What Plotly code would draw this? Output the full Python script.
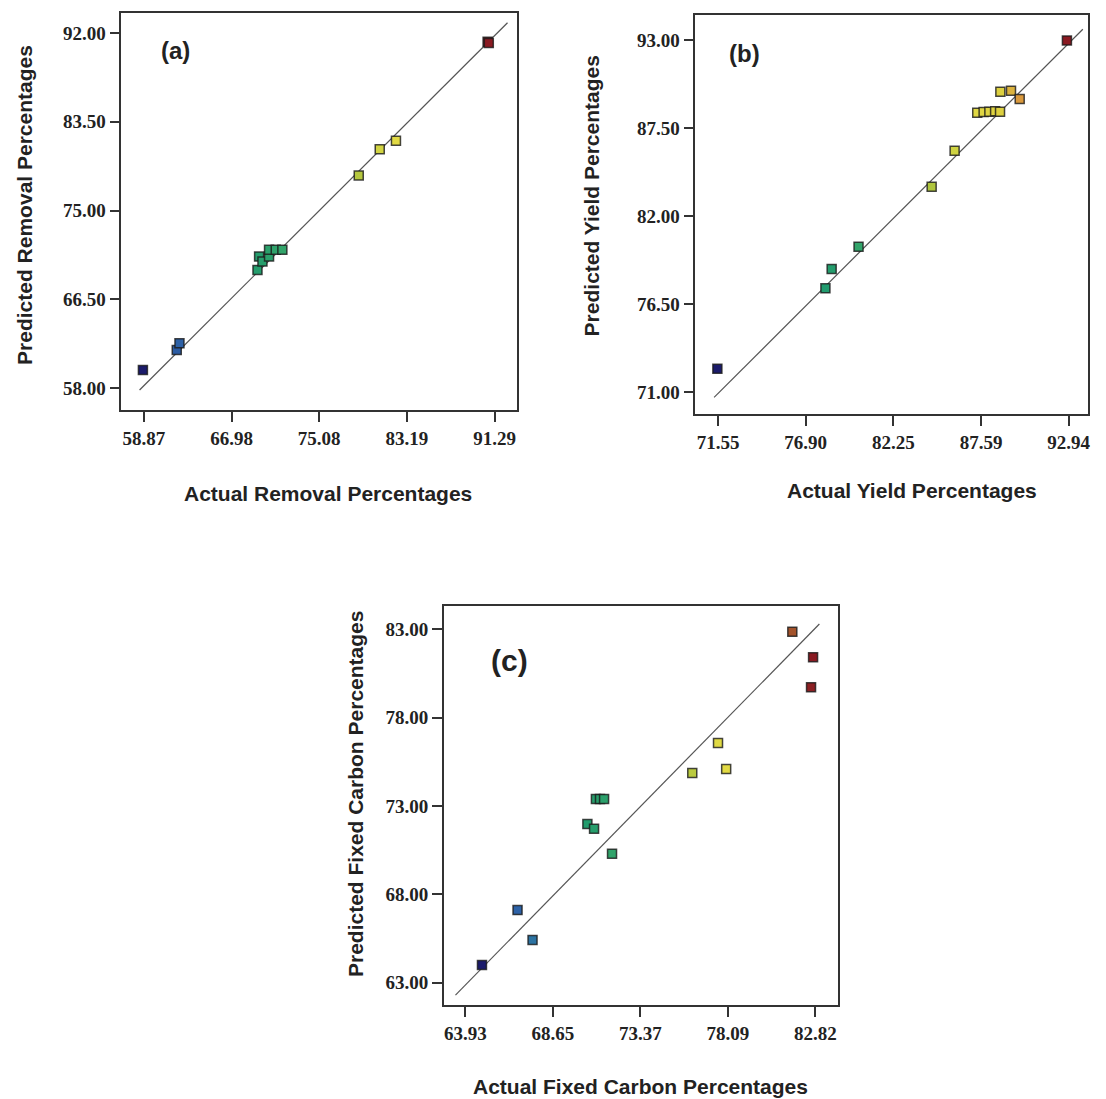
import plotly.graph_objects as go

# ---------------- data ----------------
a_actual = [58.78, 61.91, 62.16, 69.37, 69.52, 69.83, 70.44, 70.44, 71.06, 71.67, 78.73, 80.67, 82.17, 90.64, 90.75]
a_pred   = [59.73, 61.64, 62.29, 69.31, 70.59, 70.11, 70.59, 71.23, 71.23, 71.23, 78.36, 80.88, 81.68, 91.17, 91.05]
a_line_x = [58.47, 92.48]
a_line_y = [57.81, 92.99]
a_xticks = [58.87, 66.98, 75.08, 83.19, 91.29]
a_yticks = [58.00, 66.50, 75.00, 83.50, 92.00]

b_actual = [71.51, 78.10, 78.48, 80.12, 84.58, 85.98, 87.36, 87.75, 88.10, 88.45, 88.75, 88.77, 89.42, 89.95, 92.83]
b_pred   = [72.46, 77.48, 78.69, 80.08, 83.83, 86.08, 88.46, 88.50, 88.52, 88.55, 88.52, 89.77, 89.83, 89.31, 92.96]
b_line_x = [71.31, 93.80]
b_line_y = [70.67, 93.67]
b_xticks = [71.55, 76.90, 82.25, 87.59, 92.94]
b_yticks = [71.00, 76.50, 82.00, 87.50, 93.00]

c_actual = [64.82, 66.74, 67.55, 70.51, 70.87, 70.97, 71.19, 71.41, 71.84, 76.17, 77.56, 78.00, 81.57, 82.69, 82.58]
c_pred   = [64.00, 67.11, 65.42, 71.98, 71.72, 73.40, 73.40, 73.40, 70.30, 74.87, 76.57, 75.09, 82.86, 81.42, 79.72]
c_line_x = [63.39, 83.03]
c_line_y = [62.30, 83.30]
c_xticks = [63.93, 68.65, 73.37, 78.09, 82.82]
c_yticks = [63.00, 68.00, 73.00, 78.00, 83.00]

panel_labels = ["(a)", "(b)", "(c)"]
x_titles = ["Actual Removal Percentages", "Actual Yield Percentages", "Actual Fixed Carbon Percentages"]
y_titles = ["Predicted Removal Percentages", "Predicted Yield Percentages", "Predicted Fixed Carbon Percentages"]

# ---------------- styling / layout ----------------
W, H = 1106, 1099
def px(x):
    return x / W
def py(y):
    return 1 - y / H

colorscale = [
    [0.00, '#1b1b6b'], [0.12, '#2f6aae'], [0.30, '#1f9a6e'], [0.45, '#3aa868'],
    [0.60, '#a9c23c'], [0.72, '#e3dc45'], [0.81, '#ddd040'], [0.88, '#d98a3c'],
    [0.94, '#a0502a'], [1.00, '#8a1a22'],
]

panels = [
    dict(ax="", x=a_actual, y=a_pred, lx=a_line_x, ly=a_line_y, xt=a_xticks, yt=a_yticks,
         xdom=[px(121.7), px(518)], ydom=[py(410), py(12.7)],
         xr=[56.79, 93.32], yr=[55.89, 93.95],
         lab=(176, 50, 24), xtt=(329, 493), ytt=(25, 205)),
    dict(ax="2", x=b_actual, y=b_pred, lx=b_line_x, ly=b_line_y, xt=b_xticks, yt=b_yticks,
         xdom=[px(697.3), px(1090.7)], ydom=[py(414), py(15)],
         xr=[70.17, 94.10], yr=[69.63, 94.56],
         lab=(747, 54, 24), xtt=(914, 490), ytt=(594, 196)),
    dict(ax="3", x=c_actual, y=c_pred, lx=c_line_x, ly=c_line_y, xt=c_xticks, yt=c_yticks,
         xdom=[px(445), px(840)], ydom=[py(1005), py(606)],
         xr=[62.76, 84.02], yr=[61.74, 84.32],
         lab=(511, 660, 30), xtt=(642, 1086), ytt=(356, 794)),
]

fig = go.Figure()
annotations = []
tick_font = dict(family="Liberation Serif", size=19, color="#222")
title_font = dict(family="Liberation Sans", size=21, color="#222")

for i, p in enumerate(panels):
    xa = "x" + p["ax"]
    ya = "y" + p["ax"]
    fig.add_trace(go.Scatter(
        x=p["lx"], y=p["ly"], mode="lines", xaxis=xa, yaxis=ya,
        line=dict(color="#555", width=1.2), showlegend=False, hoverinfo="skip"))
    fig.add_trace(go.Scatter(
        x=p["x"], y=p["y"], mode="markers", xaxis=xa, yaxis=ya, showlegend=False,
        marker=dict(symbol="square", size=9, color=p["x"], colorscale=colorscale,
                    cmin=min(p["x"]), cmax=max(p["x"]), showscale=False,
                    line=dict(color="rgba(25,25,25,0.8)", width=1.5))))
    axis_common = dict(showline=True, linecolor="#333", linewidth=1.5, mirror=True,
                       ticks="outside", ticklen=10, tickwidth=1.5, tickcolor="#333",
                       showgrid=False, zeroline=False, tickfont=tick_font)
    fig.layout["xaxis" + p["ax"]] = dict(
        domain=p["xdom"], range=p["xr"], anchor=ya,
        tickmode="array", tickvals=p["xt"], ticktext=["<b>%.2f</b>" % v for v in p["xt"]],
        **axis_common)
    fig.layout["yaxis" + p["ax"]] = dict(
        domain=p["ydom"], range=p["yr"], anchor=xa,
        tickmode="array", tickvals=p["yt"], ticktext=["<b>%.2f</b>" % v for v in p["yt"]],
        **axis_common)
    lx, ly, ls = p["lab"]
    annotations.append(dict(text="<b>%s</b>" % panel_labels[i], x=px(lx), y=py(ly),
                            xref="paper", yref="paper", showarrow=False,
                            xanchor="center", yanchor="middle",
                            font=dict(family="Liberation Sans", size=ls, color="#222")))
    tx, ty = p["xtt"]
    annotations.append(dict(text="<b>%s</b>" % x_titles[i], x=px(tx), y=py(ty),
                            xref="paper", yref="paper", showarrow=False,
                            xanchor="center", yanchor="middle", font=title_font))
    tx, ty = p["ytt"]
    annotations.append(dict(text="<b>%s</b>" % y_titles[i], x=px(tx), y=py(ty),
                            xref="paper", yref="paper", showarrow=False, textangle=-90,
                            xanchor="center", yanchor="middle", font=title_font))

fig.update_layout(width=W, height=H, margin=dict(l=0, r=0, t=0, b=0),
                  paper_bgcolor="white", plot_bgcolor="white",
                  annotations=annotations)

fig.write_html("out.html", config={"displayModeBar": False},
               post_script="document.body.style.margin='0';document.body.style.overflow='hidden';")
